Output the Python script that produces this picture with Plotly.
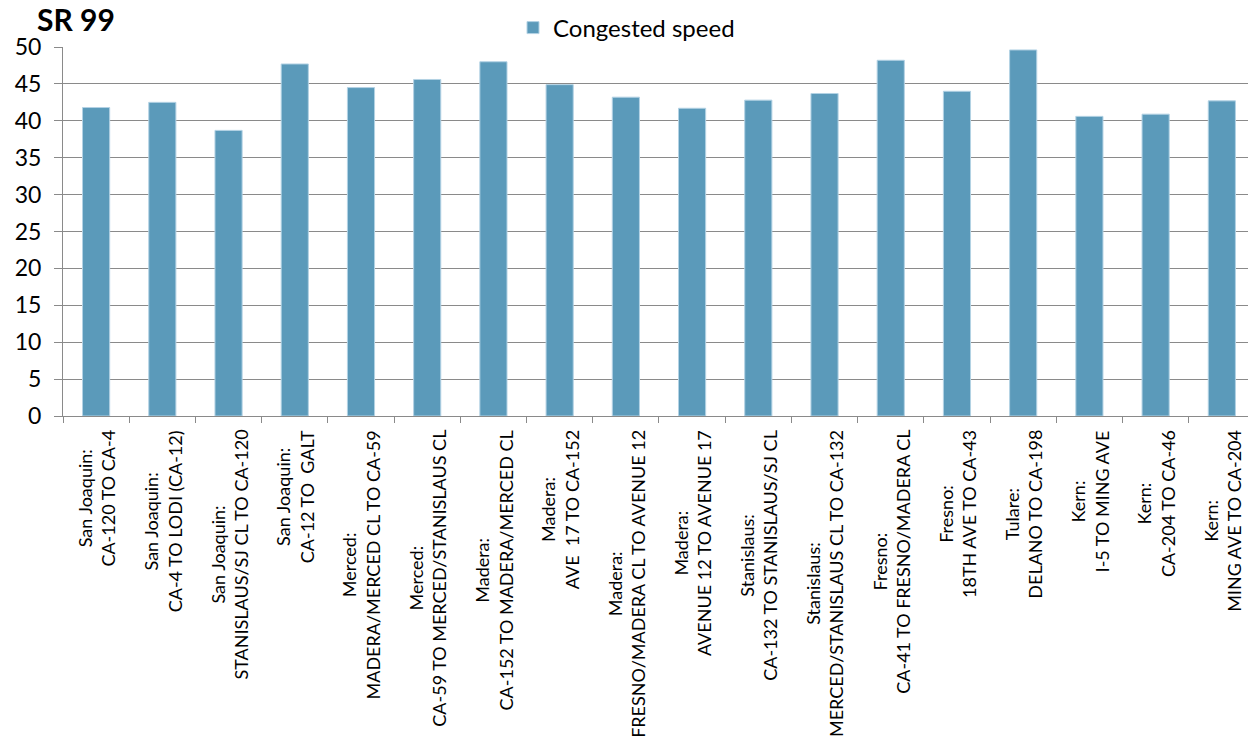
import plotly.graph_objects as go

# Segment labels: county on the first line, segment limits on the second
counties = [
    "San Joaquin:", "San Joaquin:", "San Joaquin:", "San Joaquin:",
    "Merced:", "Merced:", "Madera:", "Madera:", "Madera:", "Madera:",
    "Stanislaus:", "Stanislaus:", "Fresno:", "Fresno:", "Tulare:",
    "Kern:", "Kern:", "Kern:",
]
segments = [
    "CA-120 TO CA-4", "CA-4 TO LODI (CA-12)", "STANISLAUS/SJ CL TO CA-120",
    "CA-12 TO  GALT", "MADERA/MERCED CL TO CA-59", "CA-59 TO MERCED/STANISLAUS CL",
    "CA-152 TO MADERA/MERCED CL", "AVE  17 TO CA-152", "FRESNO/MADERA CL TO AVENUE 12",
    "AVENUE 12 TO AVENUE 17", "CA-132 TO STANISLAUS/SJ CL", "MERCED/STANISLAUS CL TO CA-132",
    "CA-41 TO FRESNO/MADERA CL", "18TH AVE TO CA-43", "DELANO TO CA-198",
    "I-5 TO MING AVE", "CA-204 TO CA-46", "MING AVE TO CA-204",
]
congested_speed = [
    41.8, 42.5, 38.7, 47.7, 44.5, 45.6, 48.0, 44.9, 43.2,
    41.7, 42.8, 43.7, 48.2, 44.0, 49.6, 40.6, 40.9, 42.7,
]
y_ticks = list(range(0, 51, 5))

categories = [f"{c}|{s}" for c, s in zip(counties, segments)]

FONT = "Lato, 'Open Sans', sans-serif"
GRID = "#8a8a8a"
PLOT_H = 369  # plot-area height in px, used to place the category labels

fig = go.Figure(
    go.Bar(
        x=categories,
        y=congested_speed,
        name="Congested speed",
        width=0.41,
        marker=dict(color="#5B9ABA", line=dict(color="#B3D2E4", width=1)),
    )
)

# Two-line rotated category labels, lines centred on each other
annotations = [
    dict(
        x=cat, xref="x", y=-12 / PLOT_H, yref="paper",
        text=f"{c}<br>{s}", showarrow=False, textangle=-90,
        xanchor="center", yanchor="top", align="center",
        font=dict(family=FONT, size=18, color="#000000"),
    )
    for cat, c, s in zip(categories, counties, segments)
]

fig.update_layout(
    width=1248, height=744,
    margin=dict(l=63, r=0, t=47, b=328, autoexpand=False),
    paper_bgcolor="white", plot_bgcolor="white",
    font=dict(family=FONT, color="#000000"),
    title=dict(
        text="<b>SR 99</b>", x=37 / 1248, xanchor="left", xref="container",
        y=1 - 20 / 744, yanchor="middle", yref="container",
        font=dict(family=FONT, size=30, color="#000000"),
    ),
    showlegend=True,
    legend=dict(
        orientation="h", x=513 / 1248, xref="container", xanchor="left",
        y=1 - 28 / 744, yref="container", yanchor="middle",
        font=dict(family=FONT, size=24, color="#000000"),
        bgcolor="rgba(0,0,0,0)",
    ),
    xaxis=dict(
        type="category", range=[-0.5, 17.395],
        showticklabels=False, tickson="boundaries",
        ticks="outside", ticklen=6, tickcolor=GRID,
        showline=True, linecolor=GRID, linewidth=1,
        showgrid=False, zeroline=False,
    ),
    yaxis=dict(
        range=[0, 50], tickvals=y_ticks,
        ticks="outside", ticklen=8, tickcolor=GRID,
        ticklabelstandoff=8,
        showline=True, linecolor=GRID, linewidth=1,
        showgrid=True, gridcolor=GRID, gridwidth=1,
        zeroline=False,
        tickfont=dict(family=FONT, size=23, color="#000000"),
    ),
    annotations=annotations,
    bargap=0.59,
)

fig.write_html("out.html")
